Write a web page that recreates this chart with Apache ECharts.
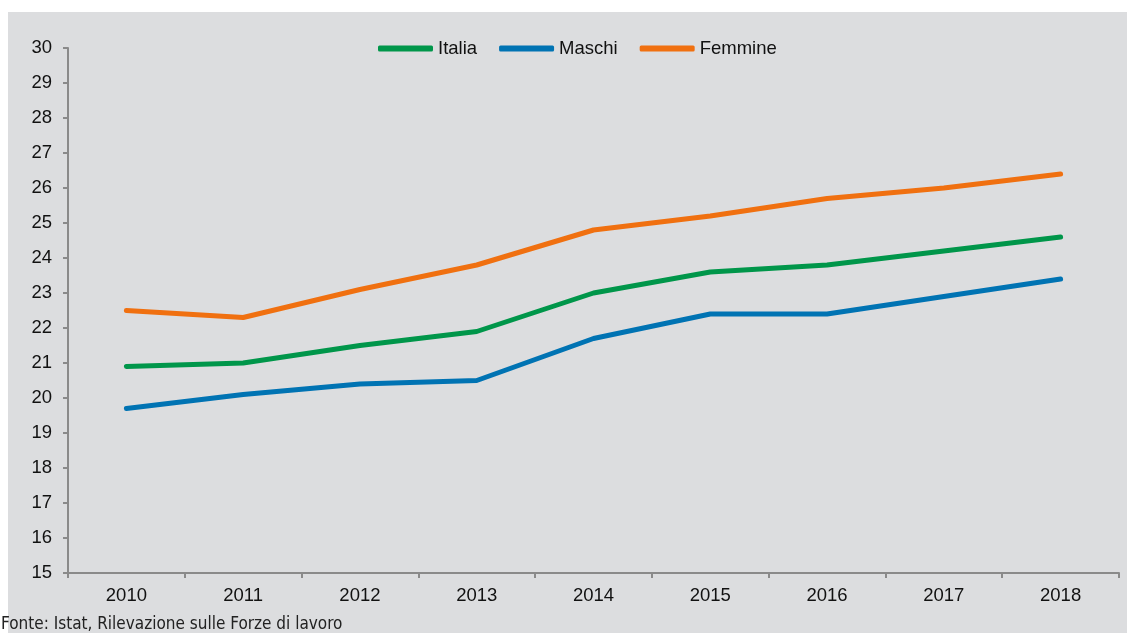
<!DOCTYPE html>
<html>
<head>
<meta charset="utf-8">
<script src="https://cdn.jsdelivr.net/npm/echarts@6/dist/echarts.min.js"></script>
<style>
  html, body { margin: 0; padding: 0; background: #fff; }
  #chart { width: 1127px; height: 633px; }
</style>
</head>
<body>
<div id="chart"></div>
<script>
const years = ["2010", "2011", "2012", "2013", "2014", "2015", "2016", "2017", "2018"];
const italia = [20.9, 21.0, 21.5, 21.9, 23.0, 23.6, 23.8, 24.2, 24.6];
const maschi = [19.7, 20.1, 20.4, 20.5, 21.7, 22.4, 22.4, 22.9, 23.4];
const femmine = [22.5, 22.3, 23.1, 23.8, 24.8, 25.2, 25.7, 26.0, 26.4];

const FONT = "'Liberation Sans', Arial, sans-serif";

const chart = echarts.init(document.getElementById("chart"));

function lineSeries(name, data, color) {
  return {
    name,
    type: "line",
    data,
    symbol: "none",
    color,
    lineStyle: { width: 5, color, cap: "round", join: "round" },
  };
}

chart.setOption({
  animation: false,
  backgroundColor: "#ffffff",
  graphic: [
    {
      type: "rect",
      left: 8,
      top: 12,
      shape: { width: 1119, height: 621 },
      style: { fill: "#dcdddf" },
      z: -10,
    },
    {
      type: "text",
      left: 1,
      top: 616,
      style: {
        text: "Fonte: Istat, Rilevazione sulle Forze di lavoro",
        font: "17px 'Liberation Sans Narrow', 'DejaVu Sans Condensed', sans-serif",
        fill: "#222",
      },
    },
  ],
  legend: {
    top: 34,
    left: 373,
    icon: "roundRect",
    itemWidth: 55,
    itemHeight: 6,
    itemGap: 22,
    textStyle: { fontFamily: FONT, fontSize: 18.5, color: "#111" },
    data: ["Italia", "Maschi", "Femmine"],
  },
  grid: { left: 68, right: 8, top: 48, bottom: 60 },
  xAxis: {
    type: "category",
    data: years,
    boundaryGap: true,
    axisLine: { lineStyle: { color: "#8a8a8a", width: 2 } },
    axisTick: { show: true, length: 5, lineStyle: { color: "#8a8a8a", width: 2 } },
    axisLabel: { fontFamily: FONT, fontSize: 18.5, color: "#111", margin: 13 },
  },
  yAxis: {
    type: "value",
    min: 15,
    max: 30,
    interval: 1,
    axisLine: { show: true, lineStyle: { color: "#8a8a8a", width: 2 } },
    axisTick: { show: true, length: 5, lineStyle: { color: "#8a8a8a", width: 2 } },
    splitLine: { show: false },
    axisLabel: { fontFamily: FONT, fontSize: 18.5, color: "#111", margin: 16 },
  },
  series: [
    lineSeries("Italia", italia, "#00964a"),
    lineSeries("Maschi", maschi, "#0073b3"),
    lineSeries("Femmine", femmine, "#f07010"),
  ],
});
</script>
</body>
</html>
